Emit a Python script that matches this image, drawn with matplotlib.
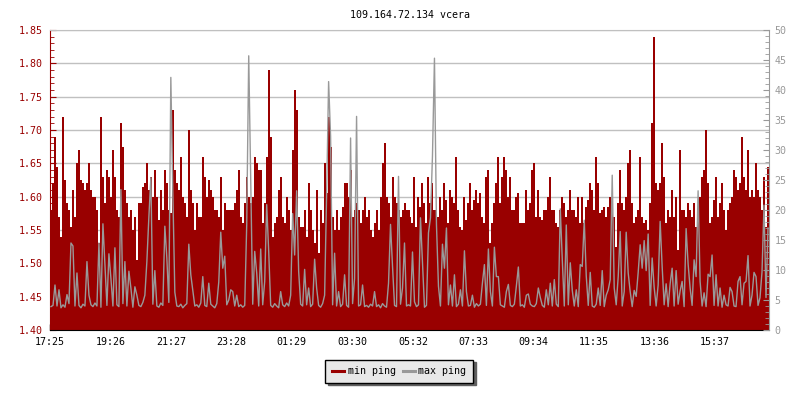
import matplotlib
matplotlib.use('Agg')
import matplotlib.pyplot as plt
from matplotlib.lines import Line2D
import numpy as np

TITLE = '109.164.72.134 vcera'
START = '17:25'
STEP_MIN = 4          # one sample every 4 minutes, 360 samples = 24 h
TICK_LABELS = ['17:25', '19:26', '21:27', '23:28', '01:29', '03:30',
               '05:32', '07:33', '09:34', '11:35', '13:36', '15:37']

# min ping [ms], left axis
min_ping = [
    1.58, 1.62, 1.69, 1.645, 1.57, 1.54, 1.72, 1.625, 1.59, 1.58,
    1.555, 1.61, 1.57, 1.65, 1.67, 1.625, 1.62, 1.61, 1.62, 1.65,
    1.61, 1.60, 1.60, 1.58, 1.53, 1.72, 1.63, 1.59, 1.64, 1.63,
    1.60, 1.67, 1.63, 1.58, 1.57, 1.71, 1.675, 1.61, 1.59, 1.57,
    1.58, 1.55, 1.57, 1.505, 1.59, 1.59, 1.615, 1.62, 1.65, 1.61,
    1.63, 1.60, 1.64, 1.60, 1.565, 1.61, 1.58, 1.64, 1.62, 1.58,
    1.575, 1.73, 1.64, 1.62, 1.61, 1.66, 1.60, 1.59, 1.57, 1.70,
    1.61, 1.59, 1.55, 1.59, 1.57, 1.57, 1.66, 1.63, 1.60, 1.625,
    1.61, 1.60, 1.58, 1.58, 1.57, 1.63, 1.55, 1.59, 1.58, 1.58,
    # 23:28 ..
    1.58, 1.58, 1.59, 1.61, 1.64, 1.57, 1.56, 1.59, 1.63, 1.60,
    1.59, 1.60, 1.66, 1.65, 1.64, 1.64, 1.56, 1.59, 1.66, 1.79,
    1.69, 1.54, 1.56, 1.57, 1.61, 1.63, 1.57, 1.56, 1.60, 1.58,
    1.55, 1.67, 1.76, 1.73, 1.57, 1.555, 1.555, 1.58, 1.54, 1.62,
    1.58, 1.55, 1.53, 1.61, 1.515, 1.58, 1.56, 1.65, 1.605, 1.72,
    1.675, 1.57, 1.55, 1.58, 1.55, 1.57, 1.585, 1.62, 1.62, 1.60,
    1.64, 1.57, 1.58, 1.59, 1.58, 1.56, 1.58, 1.60, 1.57, 1.58,
    1.55, 1.54, 1.56, 1.58, 1.55, 1.60, 1.65, 1.68, 1.60, 1.59,
    1.57, 1.63, 1.60, 1.59, 1.58, 1.57, 1.58, 1.59, 1.58, 1.58,
    # 05:32 ..
    1.57, 1.56, 1.63, 1.555, 1.60, 1.585, 1.62, 1.59, 1.56, 1.63,
    1.59, 1.62, 1.58, 1.58, 1.57, 1.60, 1.58, 1.62, 1.595, 1.56,
    1.61, 1.60, 1.59, 1.66, 1.58, 1.555, 1.55, 1.60, 1.565, 1.59,
    1.62, 1.58, 1.595, 1.61, 1.59, 1.605, 1.57, 1.56, 1.63, 1.64,
    1.53, 1.56, 1.59, 1.62, 1.66, 1.59, 1.63, 1.66, 1.64, 1.60,
    1.63, 1.58, 1.58, 1.60, 1.605, 1.56, 1.56, 1.56, 1.61, 1.58,
    1.59, 1.64, 1.65, 1.57, 1.61, 1.57, 1.565, 1.58, 1.58, 1.60,
    1.63, 1.58, 1.58, 1.56, 1.555, 1.58, 1.60, 1.59, 1.57, 1.58,
    1.61, 1.58, 1.58, 1.57, 1.60, 1.56, 1.60, 1.56, 1.585, 1.595,
    # 11:35 ..
    1.62, 1.61, 1.58, 1.66, 1.62, 1.575, 1.58, 1.585, 1.57, 1.585,
    1.60, 1.585, 1.57, 1.525, 1.59, 1.64, 1.59, 1.58, 1.60, 1.65,
    1.67, 1.59, 1.56, 1.57, 1.58, 1.66, 1.57, 1.56, 1.565, 1.55,
    1.59, 1.71, 1.84, 1.62, 1.61, 1.62, 1.68, 1.63, 1.56, 1.58,
    1.57, 1.61, 1.57, 1.60, 1.52, 1.67, 1.58, 1.58, 1.57, 1.59,
    1.58, 1.57, 1.59, 1.555, 1.57, 1.60, 1.63, 1.64, 1.70, 1.62,
    1.56, 1.57, 1.595, 1.63, 1.57, 1.59, 1.62, 1.58, 1.55, 1.58,
    1.59, 1.60, 1.64, 1.63, 1.61, 1.62, 1.69, 1.63, 1.61, 1.67,
    1.60, 1.61, 1.60, 1.65, 1.61, 1.60, 1.58, 1.63, 1.555, 1.645,
]

# max ping [ms], right axis
max_ping = [
    3.9, 4.1, 7.5, 4.0, 6.7, 3.7, 4.2, 3.8, 5.9, 4.4,
    14.5, 14.0, 4.0, 9.5, 4.1, 3.7, 4.3, 4.0, 11.4, 5.8,
    4.2, 3.9, 4.5, 4.0, 14.5, 3.8, 17.7, 10.9, 4.1, 12.7,
    8.6, 4.0, 13.7, 4.2, 3.9, 23.4, 4.4, 11.4, 4.0, 9.8,
    7.0, 3.8, 7.2, 5.8, 4.1, 3.9, 4.6, 5.8, 11.4, 18.8,
    25.4, 4.3, 9.9, 4.0, 3.8, 4.5, 4.1, 17.3, 12.0, 4.6,
    42.1, 22.9, 6.3, 4.0, 3.9, 4.3, 3.7, 4.1, 4.4, 14.3,
    9.2, 6.6, 4.0, 4.2, 3.8, 4.5, 8.9, 4.1, 3.9, 7.8,
    4.3, 4.0, 3.7, 4.4, 8.0, 16.3, 10.3, 12.3, 4.2, 5.0,
    # 23:28 ..
    6.7, 6.4, 4.0, 5.8, 3.9, 4.2, 3.8, 4.1, 17.6, 45.7,
    24.5, 4.3, 13.1, 9.5, 4.0, 13.5, 4.2, 8.1, 20.9, 13.1,
    4.1, 3.8, 4.4, 4.0, 3.7, 6.4, 4.2, 3.9, 4.5, 4.0,
    5.8, 19.4, 12.5, 23.2, 9.8, 4.3, 4.0, 10.1, 4.2, 7.0,
    3.9, 4.3, 11.8, 7.0, 4.1, 3.8, 4.4, 5.8, 22.6, 41.4,
    32.2, 4.2, 12.8, 4.0, 6.4, 3.9, 4.3, 9.2, 4.1, 3.8,
    32.0, 4.4, 8.6, 35.6, 4.0, 4.2, 7.5, 3.9, 4.1, 3.8,
    4.3, 4.0, 6.4, 3.9, 4.2, 3.7, 4.4, 4.0, 3.8, 7.8,
    17.6, 10.6, 4.1, 3.9, 25.6, 4.3, 7.0, 14.5, 4.0, 4.2,
    # 05:32 ..
    4.0, 13.0, 4.7, 3.9, 4.2, 18.7, 11.2, 3.8, 4.1, 16.2,
    18.7, 29.0, 45.3, 17.6, 7.3, 4.0, 14.3, 10.3, 17.0, 4.2,
    7.5, 4.0, 9.2, 3.9, 4.3, 6.7, 4.0, 13.2, 6.4, 4.0,
    4.1, 5.8, 3.8, 4.4, 4.0, 4.3, 7.8, 10.9, 4.1, 13.5,
    6.4, 4.0, 13.8, 8.9, 8.9, 4.2, 4.0, 3.8, 6.4, 7.6,
    4.1, 3.9, 4.3, 7.3, 10.5, 4.0, 4.2, 3.8, 5.8, 6.0,
    4.3, 4.0, 3.9, 4.4, 7.0, 5.4, 4.1, 3.8, 6.7, 4.2,
    7.8, 4.0, 8.4, 4.3, 3.9, 20.2, 11.7, 4.0, 17.5, 4.2,
    11.2, 6.6, 4.0, 6.7, 3.9, 10.9, 10.6, 18.3, 9.0, 4.1,
    # 11:35 ..
    9.6, 4.0, 3.8, 4.3, 7.0, 4.1, 9.9, 3.9, 5.8, 6.7,
    8.4, 25.8, 7.0, 4.2, 8.9, 16.4, 4.0, 6.4, 16.3, 9.5,
    6.4, 3.9, 6.6, 5.6, 9.6, 14.2, 10.3, 14.9, 9.9, 16.0,
    4.1, 12.0, 7.1, 4.0, 7.5, 18.1, 10.6, 4.2, 7.7, 3.9,
    7.7, 10.3, 4.0, 9.9, 4.3, 6.5, 8.1, 3.9, 16.9, 11.0,
    7.0, 4.1, 11.7, 8.9, 23.2, 8.1, 4.0, 6.2, 3.9, 9.3,
    8.9, 12.5, 4.1, 9.2, 4.0, 7.0, 3.8, 5.8, 4.2, 4.0,
    7.1, 6.4, 4.0, 3.9, 8.1, 8.9, 4.2, 7.8, 8.1, 12.4,
    4.0, 5.8, 9.6, 8.9, 4.1, 5.4, 9.7, 20.8, 5.4, 17.0,
]

RED = '#990000'
GRAY = '#999999'
GRID = '#c0c0c0'
FONT = 'DejaVu Sans Mono'
FS = 7.2

plt.rcParams['font.family'] = FONT
plt.rcParams['font.size'] = FS


def to_min(hhmm):
    h, m = hhmm.split(':')
    return int(h) * 60 + int(m)


n = len(min_ping)
edges = np.arange(n + 1) * STEP_MIN
centers = edges[:-1] + STEP_MIN / 2
t0 = to_min(START)
tick_pos = [(to_min(s) - t0) % 1440 for s in TICK_LABELS]

fig = plt.figure(figsize=(8, 4), dpi=100)
ax = fig.add_axes([50 / 800, 1 - 330 / 400, 719 / 800, 300 / 400])
ax.set_axisbelow(True)

# min ping: filled steps from the bottom of the axis
ax.stairs(min_ping, edges, baseline=1.40, fill=True, color=RED, lw=0)
ax.set_xlim(0, edges[-1])
ax.set_ylim(1.40, 1.85)
ax.set_yticks(np.arange(1.40, 1.851, 0.05))
ax.set_yticks(np.arange(1.40, 1.851, 0.01), minor=True)
ax.yaxis.set_major_formatter(matplotlib.ticker.FormatStrFormatter('%.2f'))
ax.grid(axis='y', color=GRID, lw=1)
ax.set_xticks(tick_pos)
ax.set_xticklabels(TICK_LABELS)
ax.tick_params(axis='x', direction='in', length=4, width=1, color='black', pad=5)
ax.tick_params(axis='y', which='both', direction='in', color=RED, labelcolor=RED, pad=5)
ax.tick_params(axis='y', which='major', length=4)
ax.tick_params(axis='y', which='minor', length=3)
ax.spines['left'].set_color(RED)
ax.spines['bottom'].set_color('black')
ax.spines['top'].set_color(GRID)
ax.spines['right'].set_visible(False)
ax.set_title(TITLE, fontsize=FS, pad=9)

# max ping: line on its own scale (right)
ax2 = ax.twinx()
ax2.plot(centers, max_ping, color=GRAY, lw=1.0)
ax2.set_ylim(0, 50)
ax2.set_yticks(np.arange(0, 51, 5))
ax2.set_yticks(np.arange(0, 51, 1), minor=True)
ax2.tick_params(axis='y', which='both', direction='in', color=GRAY, labelcolor=GRAY, pad=4)
ax2.tick_params(axis='y', which='major', length=4)
ax2.tick_params(axis='y', which='minor', length=3)
ax2.spines['right'].set_color(GRAY)
for s in ('left', 'top', 'bottom'):
    ax2.spines[s].set_visible(False)

handles = [Line2D([], [], color=RED, lw=2.2), Line2D([], [], color=GRAY, lw=2.2)]
leg = fig.legend(handles, ['min ping', 'max ping'], loc='center',
                 bbox_to_anchor=(399 / 800, 1 - 371 / 400), ncol=2,
                 fontsize=FS, handlelength=1.2, handletextpad=0.4,
                 columnspacing=0.7, borderpad=0.65, fancybox=False,
                 edgecolor='black', facecolor='#e8e8e8', framealpha=1,
                 shadow={'color': '#606060', 'alpha': 1})
leg.get_frame().set_linewidth(1)

fig.savefig('out.png', dpi=100)
